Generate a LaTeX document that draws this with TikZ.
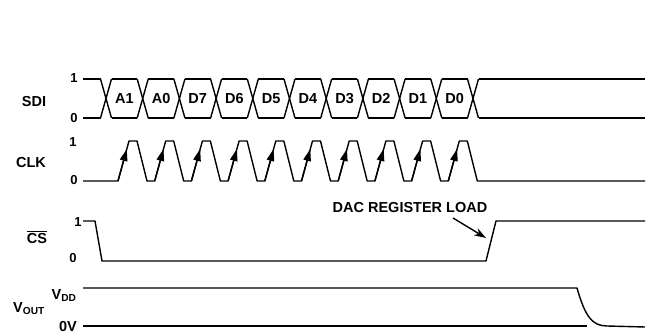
\documentclass[tikz,border=0pt]{standalone}
\usepackage{fontspec}
\setmainfont{Liberation Sans}
\usetikzlibrary{arrows.meta}
\begin{document}
\begin{tikzpicture}[x=1pt,y=-1pt,
  wave/.style={line width=1.4pt,line join=round},
  lbl/.style={font=\fontsize{14.5}{16}\selectfont\bfseries,inner sep=0pt,text height=10.4pt,text depth=0pt},
  lvl/.style={font=\fontsize{13}{15}\selectfont\bfseries,inner sep=0pt,text height=9.4pt,text depth=0pt},
  clkarrow/.style={line width=1.4pt,-{Triangle[length=12pt,width=7.5pt]}}]
\useasboundingbox (0,0) rectangle (649,334);
% ---------- labels ----------
\node[lbl] (sdi) at (34,101) {SDI};
\node[lbl] (clk) at (31,162) {CLK};
\node[lbl] (cs) at (37,238) {$\overline{\mbox{CS}}$};
\node[lbl,text height=13pt] (vout) at (29,306) {V\textsubscript{OUT}};
\node[lvl] (sdi1) at (74,78) {1};
\node[lvl] (sdi0) at (74,118) {0};
\node[lvl] (clk1) at (73,142) {1};
\node[lvl] (clk0) at (74,180) {0};
\node[lvl] (cs1) at (78,222) {1};
\node[lvl] (cs0) at (73,258) {0};
\node[lbl,text height=13pt] (vdd) at (64,293) {V\textsubscript{DD}};
\node[lbl] (zv) at (68,326) {0V};
% ---------- SDI ----------
\draw[wave] (83,79) -- (100.5,79);
\draw[wave] (83,118) -- (100.5,118);
\foreach \k in {0,...,10}{
  \pgfmathsetmacro\c{106+36.7*\k}
  \draw[wave] (\c-5.5,79) -- (\c+5.5,118);
  \draw[wave] (\c-5.5,118) -- (\c+5.5,79);
}
\foreach \k/\t in {0/A1,1/A0,2/D7,3/D6,4/D5,5/D4,6/D3,7/D2,8/D1,9/D0}{
  \pgfmathsetmacro\c{106+36.7*\k}
  \draw[wave] (\c+5.5,79) -- (\c+31.2,79);
  \draw[wave] (\c+5.5,118) -- (\c+31.2,118);
  \node[lbl] (cell\k) at (\c+18.35,98.5) {\t};
}
\draw[wave] (478.5,79) -- (645,79);
\draw[wave] (478.5,118) -- (645,118);
% ---------- CLK ----------
\draw[wave] (83,181) -- (118,181)
  \foreach \k in {0,...,9}{
    -- ({118+36.7*\k},181) -- ({129+36.7*\k},141) -- ({137+36.7*\k},141) -- ({147+36.7*\k},181)
  } -- (645,181);
\foreach \k in {0,...,9}{
  \draw[clkarrow] ({118+36.7*\k},181) -- ({126.8+36.7*\k},149);
}
% ---------- CS ----------
\draw[wave] (83,221) -- (95,221) -- (102,261) -- (486,261) -- (496,221) -- (645,221);
\node[lbl] (dac) at (410,207) {DAC REGISTER LOAD};
\coordinate (daccs) at (486,238);
\draw[line width=1.4pt,-{Stealth[length=12pt,width=8pt]}] (453,218) -- (daccs);
% ---------- VOUT ----------
\draw[wave] (83,288) -- (577,288) .. controls (585,316) and (592,326) .. (607,326) -- (645,327);
\draw[wave] (83,326) -- (587,326);
\end{tikzpicture}
\end{document}
